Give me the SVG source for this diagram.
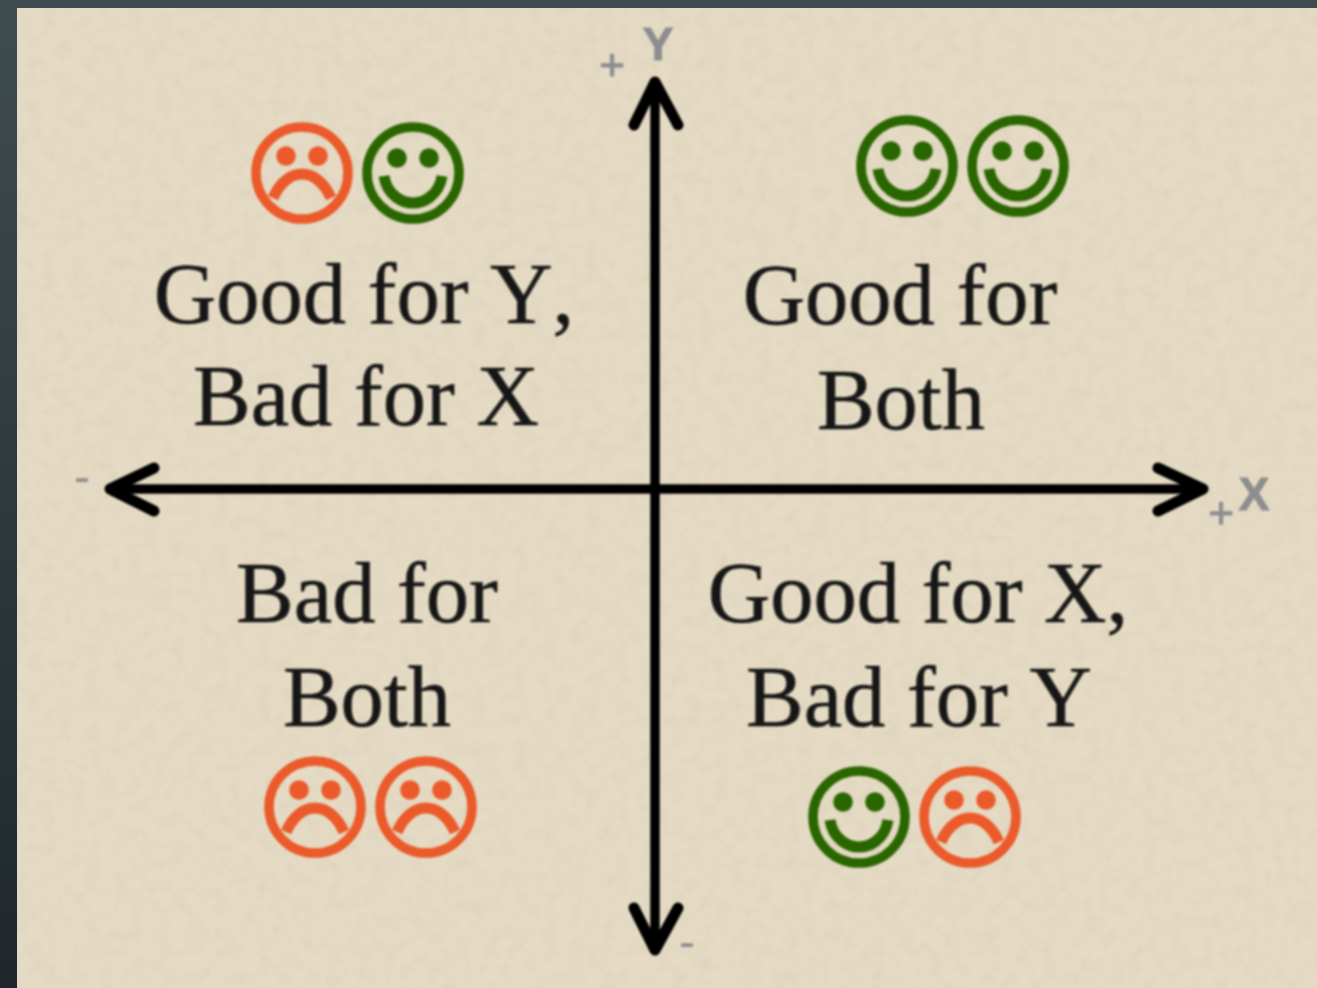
<svg xmlns="http://www.w3.org/2000/svg" width="1317" height="988" viewBox="0 0 1317 988">
<style>
.q{font-family:"Liberation Serif","Times New Roman",serif;font-size:86.5px;fill:#141414;stroke:#141414;stroke-width:.5;text-anchor:middle;font-kerning:none}
.a{font-family:"Liberation Sans",Arial,sans-serif;fill:#8c8d90;text-anchor:middle}
.b{font-size:46px;font-weight:700;stroke:#8c8d90;stroke-width:1}
.p{font-size:44px;stroke:#8c8d90;stroke-width:1}
.m{font-size:48px}
.ax{fill:none;stroke:#050505;stroke-width:9.5;stroke-linecap:round;stroke-linejoin:round}
.h{stroke-width:11}
.f{fill:none;stroke-width:9.5}
.g{fill:none;stroke-width:11;stroke-linecap:butt}
.sad{stroke:#eb5a2c;color:#eb5a2c}
.happy{stroke:#2c6606;color:#2c6606}
.e{fill:currentColor;stroke:none}
</style>
<defs>
<linearGradient id="dark" x1="0" y1="0" x2="0" y2="1"><stop offset="0" stop-color="#3f4c50"/><stop offset="1" stop-color="#1f272b"/></linearGradient>
<filter id="soft" x="-5%" y="-5%" width="110%" height="110%"><feGaussianBlur stdDeviation="0.9"/></filter>
<filter id="paper" x="0" y="0" width="100%" height="100%">
<feTurbulence type="fractalNoise" baseFrequency="0.07" numOctaves="3" seed="4"/>
<feColorMatrix values="0 0 0 0 0.62  0 0 0 0 0.56  0 0 0 0 0.42  0.55 0 0 0 -0.22"/>
</filter>
<g id="sadface"><circle class="f" r="46"/><circle class="e" cx="-16" cy="-17" r="9.8"/><circle class="e" cx="16" cy="-17" r="9.8"/><path class="g" d="M-29 25C-21 7-9 1 0 1S21 7 29 25"/></g>
<g id="happyface"><circle class="f" r="46"/><circle class="e" cx="-16" cy="-15" r="9.8"/><circle class="e" cx="16" cy="-15" r="9.8"/><path class="g" d="M-29 3C-26 23-10 30 0 30S26 23 29 3"/></g>
</defs>
<rect id="backdrop" width="1317" height="988" fill="url(#dark)"/>
<rect id="card" x="17" y="8" width="1300" height="980" fill="#e5dbc4"/>
<rect id="card-texture" x="17" y="8" width="1300" height="980" filter="url(#paper)"/>
<g filter="url(#soft)">
<g id="connectors">
<path class="ax" d="M655 82V950"/><path class="ax h" d="M634 125L655 82L678 125"/><path class="ax h" d="M634 908L655 950L678 908"/>
<path class="ax" d="M110 489H1203"/><path class="ax h" d="M154 468L110 489L154 511"/><path class="ax h" d="M1158 468L1203 489L1158 511"/>
</g>
<g id="axis-labels">
<text class="a b" x="658" y="60">Y</text>
<text class="a p" x="612" y="80">+</text>
<text class="a b" x="1254" y="510">X</text>
<text class="a p" x="1221" y="528">+</text>
<text class="a m" x="82" y="493">-</text>
<text class="a m" x="687" y="958">-</text>
</g>
<g id="top-left">
<use href="#sadface" class="sad" x="302" y="173"/><use href="#happyface" class="happy" x="413" y="173"/>
<text class="q" x="364" y="323">Good for Y,</text><text class="q" x="366" y="425">Bad for X</text>
</g>
<g id="top-right">
<use href="#happyface" class="happy" x="907" y="166"/><use href="#happyface" class="happy" x="1018" y="166"/>
<text class="q" x="900" y="324">Good for</text><text class="q" x="901" y="429">Both</text>
</g>
<g id="bottom-left">
<text class="q" x="367" y="622">Bad for</text><text class="q" x="367" y="726">Both</text>
<use href="#sadface" class="sad" x="315" y="807"/><use href="#sadface" class="sad" x="426" y="807"/>
</g>
<g id="bottom-right">
<text class="q" x="918" y="622">Good for X,</text><text class="q" x="919" y="726">Bad for Y</text>
<use href="#happyface" class="happy" x="859" y="817"/><use href="#sadface" class="sad" x="970" y="817"/>
</g>
</g>
</svg>
